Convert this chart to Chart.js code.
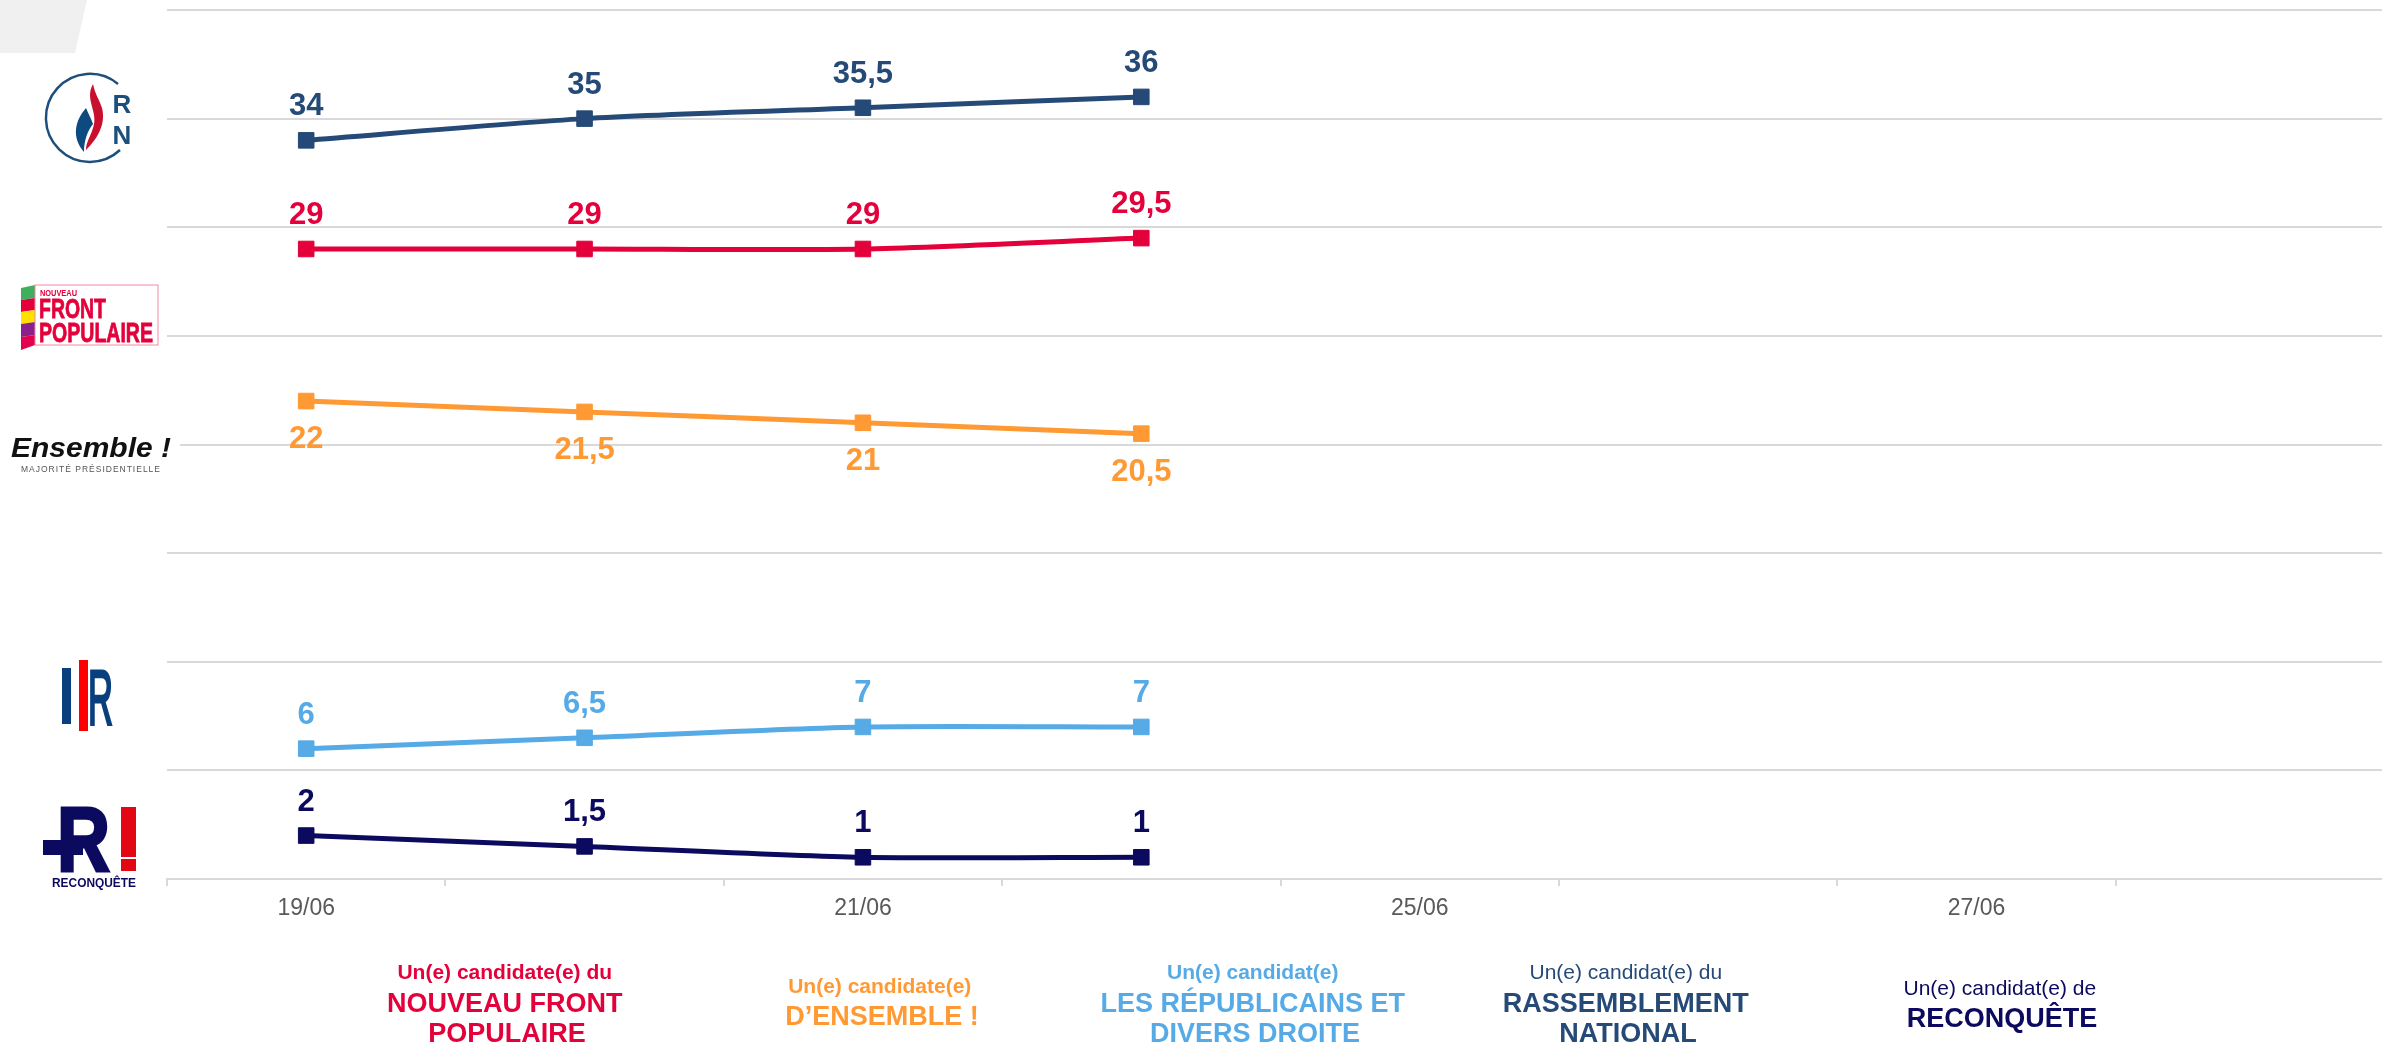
<!DOCTYPE html>
<html>
<head>
<meta charset="utf-8">
<script src="https://cdn.jsdelivr.net/npm/chart.js@4"></script>
<style>
  html, body { margin: 0; padding: 0; background: #fff; overflow: hidden; }
  #wrap { position: relative; width: 2382px; height: 1046px; overflow: hidden; }
  #wrap canvas { position: absolute; left: 0; top: 0; }
  #deco { position: absolute; left: 0; top: 0; pointer-events: none; font-family: "Liberation Sans", Arial, sans-serif; }
</style>
</head>
<body>
<div id="wrap">
  <canvas id="line-graph" width="2394" height="1046"></canvas>
  <svg id="deco" width="2382" height="1046" viewBox="0 0 2382 1046">
    <!-- corner shape -->
    <polygon points="0,0 87,0 75,53 0,53" fill="#f0f0f0"/>

    <!-- RN logo -->
    <path d="M 118 84 A 44 44 0 1 0 120 150" fill="none" stroke="#1d4f7c" stroke-width="2.5"/>
    <path d="M 93 84 C 84 100 99 112 93 128 C 90 138 86 142 86 150 C 98 138 106 124 102 108 C 99 99 95 94 93 84 Z" fill="#c8102e"/>
    <path d="M 86 108 C 74 122 72 138 84 152 C 84 140 88 130 93 124 C 91 118 88 113 86 108 Z" fill="#0d4a80"/>
    <text x="122" y="113" font-size="26" font-weight="bold" fill="#1d4f7c" text-anchor="middle">R</text>
    <text x="122" y="144" font-size="26" font-weight="bold" fill="#1d4f7c" text-anchor="middle">N</text>

    <!-- NFP logo -->
    <polygon points="21,288 35,285 35,298 21,300" fill="#3fae5f"/>
    <polygon points="21,300 35,298 35,310 21,312" fill="#e4003b"/>
    <polygon points="21,312 35,310 35,322 21,324" fill="#ffe000"/>
    <polygon points="21,324 35,322 35,335 21,337" fill="#8b1f8c"/>
    <polygon points="21,337 35,335 35,345 21,350" fill="#e4004f"/>
    <rect x="35" y="285" width="123" height="60" fill="#fff" stroke="#f08aa0" stroke-width="1"/>
    <text x="40" y="296" font-size="9" font-weight="bold" fill="#e4003b" textLength="37" lengthAdjust="spacingAndGlyphs">NOUVEAU</text>
    <text x="39" y="318" font-size="28" font-weight="bold" fill="#e4003b" stroke="#e4003b" stroke-width="0.8" textLength="67" lengthAdjust="spacingAndGlyphs">FRONT</text>
    <text x="39" y="342" font-size="28" font-weight="bold" fill="#e4003b" stroke="#e4003b" stroke-width="0.8" textLength="114" lengthAdjust="spacingAndGlyphs">POPULAIRE</text>

    <!-- Ensemble logo -->
    <rect x="6" y="430" width="174" height="46" fill="#fff"/>
    <text x="11" y="457" font-size="28" font-weight="bold" font-style="italic" fill="#111" textLength="160" lengthAdjust="spacingAndGlyphs">Ensemble !</text>
    <text x="21" y="472" font-size="8.5" fill="#555" textLength="139" lengthAdjust="spacing">MAJORITÉ PRÉSIDENTIELLE</text>

    <!-- LR logo -->
    <rect x="62" y="668" width="9" height="56" fill="#0a3f7d"/>
    <rect x="79" y="660" width="9" height="71" fill="#ff0000"/>
    <text x="88" y="724" font-size="78" fill="#0a3f7d" stroke="#0a3f7d" stroke-width="3" textLength="25" lengthAdjust="spacingAndGlyphs">R</text>

    <!-- Reconquete logo -->
    <text x="57" y="871" font-size="90" font-weight="900" fill="#0c0a5e" stroke="#0c0a5e" stroke-width="3" textLength="53" lengthAdjust="spacingAndGlyphs">R</text>
    <rect x="43" y="840" width="40" height="15" fill="#0c0a5e"/>
    <rect x="121" y="807" width="15" height="50" fill="#e30613"/>
    <rect x="121" y="859" width="15" height="12" fill="#e30613"/>
    <text x="52" y="887" font-size="12" font-weight="bold" fill="#0c0a5e" textLength="84" lengthAdjust="spacingAndGlyphs">RECONQUÊTE</text>

    <!-- legend below the chart -->
    <g text-anchor="middle">
      <text fill="#e4003b" font-weight="bold">
        <tspan x="507" y="979" font-size="21">Un(e) candidate(e) du</tspan>
        <tspan x="507" y="1012" font-size="27">NOUVEAU FRONT</tspan>
        <tspan x="507" y="1042" font-size="27">POPULAIRE</tspan>
      </text>
      <text fill="#ff9933" font-weight="bold">
        <tspan x="882" y="993" font-size="21">Un(e) candidate(e)</tspan>
        <tspan x="882" y="1025" font-size="27">D’ENSEMBLE !</tspan>
      </text>
      <text fill="#56aae6" font-weight="bold">
        <tspan x="1255" y="979" font-size="21">Un(e) candidat(e)</tspan>
        <tspan x="1255" y="1012" font-size="27">LES RÉPUBLICAINS ET</tspan>
        <tspan x="1255" y="1042" font-size="27">DIVERS DROITE</tspan>
      </text>
      <text fill="#254a77">
        <tspan x="1628" y="979" font-size="21">Un(e) candidat(e) du</tspan>
        <tspan x="1628" y="1012" font-size="27" font-weight="bold">RASSEMBLEMENT</tspan>
        <tspan x="1628" y="1042" font-size="27" font-weight="bold">NATIONAL</tspan>
      </text>
      <text fill="#0c0a5e">
        <tspan x="2002" y="995" font-size="21">Un(e) candidat(e) de</tspan>
        <tspan x="2002" y="1027" font-size="27" font-weight="bold">RECONQUÊTE</tspan>
      </text>
    </g>
  </svg>
</div>
<script>
const ctx = document.getElementById('line-graph').getContext('2d');

// x slots, only every other one is labelled
const labels = ["19/06","","21/06","","25/06","","27/06",""];

const rn = [34, 35, 35.5, 36];
const nfp = [29, 29, 29, 29.5];
const ensemble = [22, 21.5, 21, 20.5];
const lr = [6, 6.5, 7, 7];
const reconquete = [2, 1.5, 1, 1];

function serie(label, values, color, below) {
  return {
    label: label,
    data: values,
    borderColor: color,
    backgroundColor: color,
    pointBackgroundColor: color,
    pointBorderColor: color,
    borderWidth: 5,
    pointStyle: 'rect',
    pointRadius: 11,
    pointHoverRadius: 11,
    pointBorderWidth: 1,
    tension: 0.25,
    labelBelow: below
  };
}

const data = {
  labels: labels,
  datasets: [
    serie('RN', rn, '#254a77', false),
    serie('NFP', nfp, '#e4003b', false),
    serie('Ensemble', ensemble, '#ff9933', true),
    serie('LR', lr, '#56aae6', false),
    serie('Reconquête', reconquete, '#0c0a5e', false)
  ]
};

// value labels over (or under) each point
const valueLabels = {
  id: 'valueLabels',
  afterDatasetsDraw(chart) {
    const c = chart.ctx;
    c.save();
    c.font = 'bold 31px "Liberation Sans", Arial, sans-serif';
    c.textAlign = 'center';
    c.textBaseline = 'alphabetic';
    chart.data.datasets.forEach((ds, i) => {
      const meta = chart.getDatasetMeta(i);
      c.fillStyle = ds.borderColor;
      meta.data.forEach((pt, j) => {
        const txt = String(ds.data[j]).replace('.', ',');
        const y = ds.labelBelow ? pt.y + 47 : pt.y - 25;
        c.fillText(txt, pt.x, y);
      });
    });
    c.restore();
  }
};

const options = {
  responsive: false,
  maintainAspectRatio: false,
  animation: false,
  layout: { autoPadding: false, padding: { left: 167, top: 10, right: 0, bottom: 0 } },
  plugins: {
    legend: { display: false },
    tooltip: { enabled: false }
  },
  scales: {
    x: {
      offset: true,
      grid: {
        offset: true,
        drawOnChartArea: false,
        drawTicks: true,
        tickLength: 7,
        color: '#d9d9d9',
        lineWidth: 2
      },
      border: { display: true, color: '#d9d9d9', width: 2 },
      ticks: {
        autoSkip: false,
        maxRotation: 0,
        padding: 9,
        color: '#595959',
        font: { family: '"Liberation Sans", Arial, sans-serif', size: 23 }
      },
      afterFit: (scale) => {
        scale.height = 167;
        scale.paddingLeft = 0;
        scale.paddingRight = 0;
      }
    },
    y: {
      min: 0,
      max: 40,
      ticks: { display: false, stepSize: 5 },
      grid: { color: '#d9d9d9', lineWidth: 2, drawTicks: false },
      border: { display: false },
      afterFit: (scale) => { scale.width = 0; }
    }
  }
};

const myChart = new Chart(ctx, {
  type: 'line',
  data: data,
  options: options,
  plugins: [valueLabels]
});
</script>
</body>
</html>
